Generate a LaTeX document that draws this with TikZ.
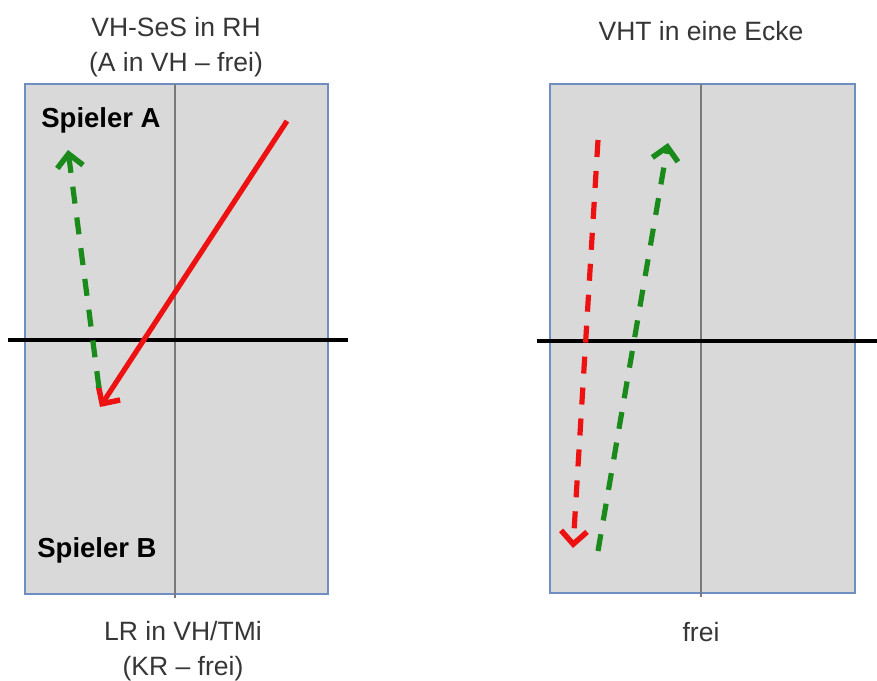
\documentclass[tikz,border=0pt]{standalone}
\usepackage{fontspec}
\setmainfont{Liberation Sans}
\usetikzlibrary{arrows.meta}
\definecolor{boxfill}{HTML}{D9D9D9}
\definecolor{boxline}{HTML}{6F8FC2}
\definecolor{midline}{HTML}{7A7A7A}
\definecolor{txt}{HTML}{363636}
\definecolor{redA}{HTML}{EE1111}
\definecolor{greenA}{HTML}{1A8A1A}
\tikzset{
  court/.style={draw=boxline, fill=boxfill, line width=2.8pt},
  centerline/.style={draw=midline, line width=2.5pt},
  netline/.style={draw=black, line width=3.4pt},
  lbl/.style={text=txt, font=\fontsize{26.5}{35}\selectfont, align=center, inner sep=0pt},
  player/.style={text=black, font=\bfseries\fontsize{27.5}{32}\selectfont, inner sep=0pt},
  shot/.style={line width=5.2pt, -{Straight Barb[length=13pt,width=26pt,line width=5.5pt]}},
  dashshot/.style={shot, dash pattern=on 17pt off 14pt},
}
\begin{document}
\begin{tikzpicture}[x=1pt,y=-1pt]
\useasboundingbox (0,0) rectangle (877,680);
\fill[white] (0,0) rectangle (877,680);
% left court
\draw[court] (25,84) rectangle (328,594);
\draw[centerline] (175,84) -- (175,598);
\draw[netline] (8,340) -- (348,340);
% right court
\draw[court] (550,84) rectangle (855,593);
\draw[centerline] (701,84) -- (701,597);
\draw[netline] (537,341) -- (877,341);
% labels
\node[lbl] (t1) at (176,47) {VH-SeS in RH\\(A in VH -- frei)};
\node[lbl] (t2) at (701,31) {VHT in eine Ecke};
\node[lbl] (b1) at (183,651) {LR in VH/TMi\\(KR -- frei)};
\node[lbl] (b2) at (701,632) {frei};
\node[player] (pa) at (101,120) {Spieler A};
\node[player] (pb) at (97,550) {Spieler B};
% shots left
\coordinate (r1s) at (287,121);
\coordinate (r1e) at (100,407);
\coordinate (g1s) at (99,388);
\coordinate (g1e) at (68,150);
\draw[shot, redA] (r1s) -- (r1e);
\draw[dashshot, greenA] (g1s) -- (g1e);
% shots right
\coordinate (r2s) at (598,140);
\coordinate (r2e) at (573,548);
\coordinate (g2s) at (598,551);
\coordinate (g2e) at (668,143);
\draw[dashshot, redA] (r2s) -- (r2e);
\draw[dashshot, greenA] (g2s) -- (g2e);
\end{tikzpicture}
\end{document}
